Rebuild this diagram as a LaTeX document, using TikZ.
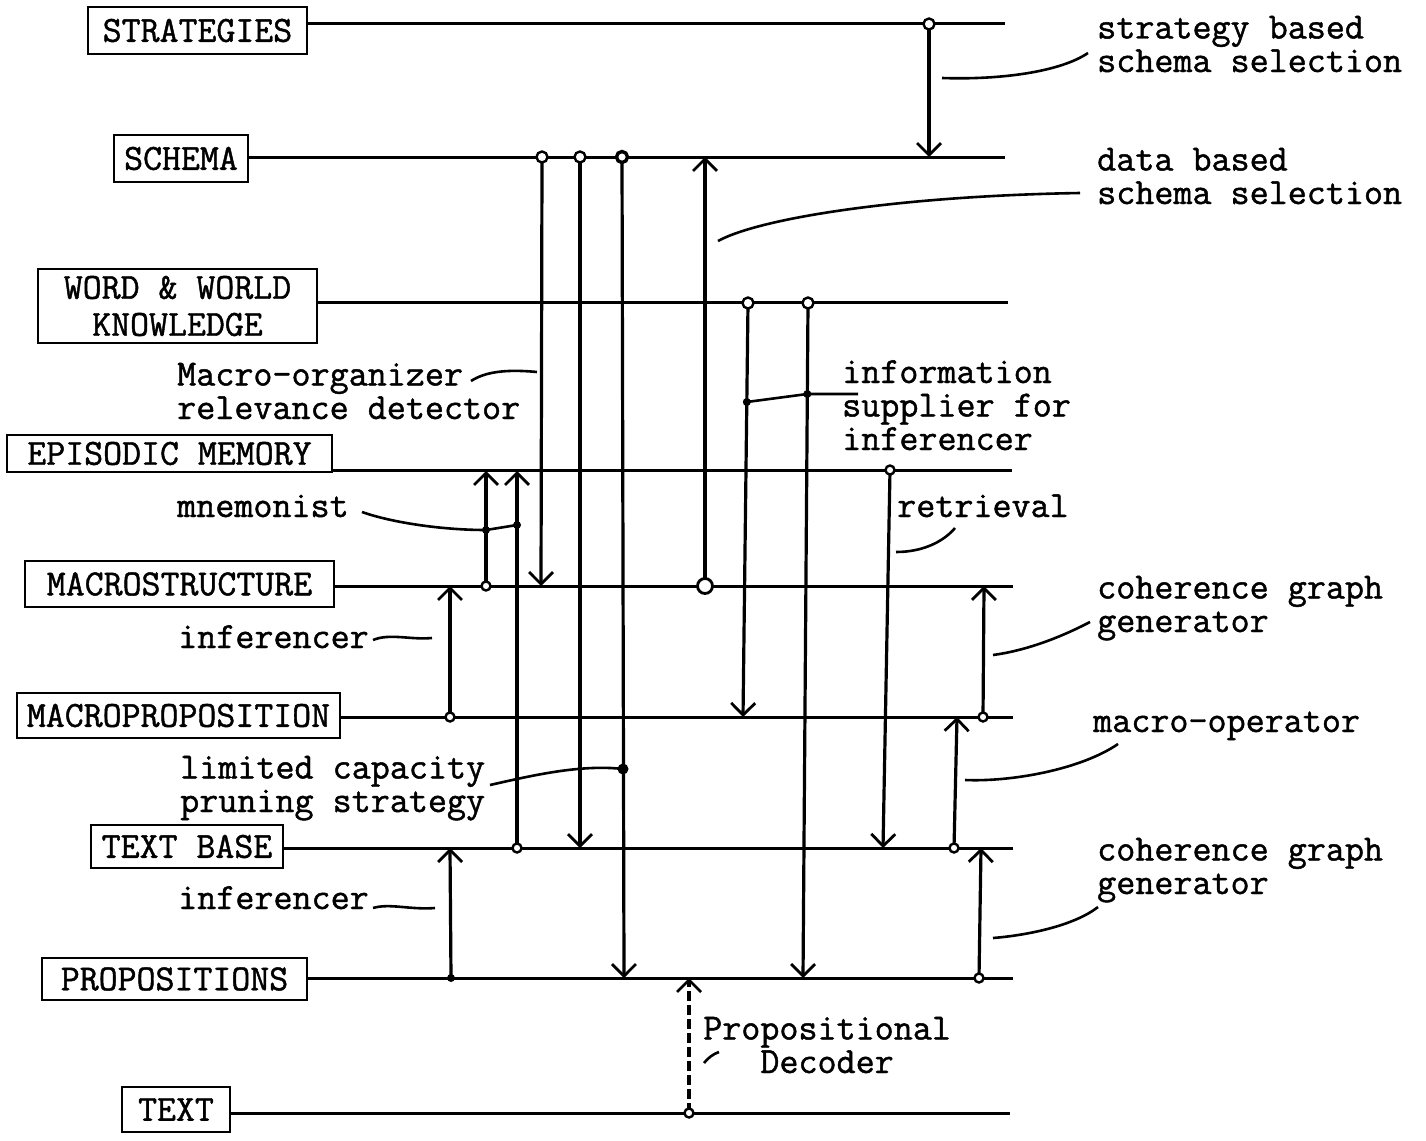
\documentclass[tikz,border=0pt]{standalone}
\usepackage{fontspec}
\newfontfamily\typfont[FakeBold=1.2]{Latin Modern Mono}
\usetikzlibrary{arrows.meta}
\begin{document}
\begin{tikzpicture}[x=1pt,y=-1pt,
 lvl/.style={draw, line width=2.6pt, inner sep=0pt, font=\typfont\fontsize{36.8}{37}\selectfont, align=center},
 lab/.style={anchor=base west, inner sep=0pt, align=left, font=\typfont\fontsize{37}{33.5}\selectfont},
 hline/.style={line width=3pt},
 vline/.style={line width=3.2pt},
 arrtip/.style={-{Straight Barb[length=12pt,width=24pt,line width=2.8pt]}},
 lead/.style={line width=2.6pt},
 mkopen/.style={circle, draw, line width=2.4pt, fill=white, inner sep=0pt, minimum size=9pt},
 mkbig/.style={circle, draw, line width=2.8pt, fill=white, inner sep=0pt, minimum size=12pt},
 mkdot/.style={circle, fill=black, inner sep=0pt, minimum size=9pt},
]
\fill[white] (0,0) rectangle (1426,1140);
\useasboundingbox (0,0) rectangle (1426,1140);

% level boxes
\node[lvl, minimum width=219pt, minimum height=47pt] (str) at (197.5,30.5) {STRATEGIES};
\node[lvl, minimum width=134pt, minimum height=47pt] (sch) at (181,158.5) {SCHEMA};
\node[lvl, minimum width=279pt, minimum height=74pt] (wwk) at (177.5,306) {WORD \& WORLD\\KNOWLEDGE};
\node[lvl, minimum width=325pt, minimum height=37pt] (epi) at (169.5,453.5) {EPISODIC MEMORY};
\node[lvl, minimum width=309pt, minimum height=46pt] (mst) at (179.5,584) {MACROSTRUCTURE};
\node[lvl, minimum width=323pt, minimum height=45pt] (mpr) at (178.5,715.5) {MACROPROPOSITION};
\node[lvl, minimum width=192pt, minimum height=43pt] (tb) at (187,846.5) {TEXT BASE};
\node[lvl, minimum width=265pt, minimum height=42pt] (pro) at (174.5,979) {PROPOSITIONS};
\node[lvl, minimum width=108pt, minimum height=45pt] (txt) at (176,1109.5) {TEXT};

% right ends of level lines
\coordinate (strR) at (1005,24);
\coordinate (schR) at (1005,157);
\coordinate (wwkR) at (1008,302);
\coordinate (epiR) at (1012,470);
\coordinate (mstR) at (1013,586);
\coordinate (mprR) at (1013,717);
\coordinate (tbR) at (1013,848);
\coordinate (proR) at (1013,978);
\coordinate (txtR) at (1010,1113);

\draw[hline] (str.east |- strR) -- (strR);
\draw[hline] (sch.east |- schR) -- (schR);
\draw[hline] (wwk.east |- wwkR) -- (wwkR);
\draw[hline] (epi.east |- epiR) -- (epiR);
\draw[hline] (mst.east |- mstR) -- (mstR);
\draw[hline] (mpr.east |- mprR) -- (mprR);
\draw[hline] (tb.east |- tbR) -- (tbR);
\draw[hline] (pro.east |- proR) -- (proR);
\draw[hline] (txt.east |- txtR) -- (txtR);

% connector end points
\coordinate (a1) at (929,24);  \coordinate (a2) at (929,157);
\coordinate (b1) at (542,157); \coordinate (b2) at (541,586);
\coordinate (c1) at (580,157); \coordinate (c2) at (580,848);
\coordinate (d1) at (622,157); \coordinate (d2) at (624,978);
\coordinate (dm) at (623,769);
\coordinate (e1) at (705,586); \coordinate (e2) at (705,157);
\coordinate (f1) at (748,303); \coordinate (f2) at (743,717);
\coordinate (fm) at (746.8,402);
\coordinate (g1) at (808,303); \coordinate (g2) at (803,978);
\coordinate (gm) at (807.3,394);
\coordinate (iE) at (858,394);
\coordinate (h1) at (890,470); \coordinate (h2) at (883,848);
\coordinate (i1) at (486,586); \coordinate (i2) at (486,471);
\coordinate (im) at (486,530);
\coordinate (j1) at (517,848); \coordinate (j2) at (517,471);
\coordinate (jm) at (517,525);
\coordinate (k1) at (450,717); \coordinate (k2) at (450,586);
\coordinate (l1) at (451,978); \coordinate (l2) at (450,848);
\coordinate (m1) at (983,717); \coordinate (m2) at (984,586);
\coordinate (n1) at (954,848); \coordinate (n2) at (957,717);
\coordinate (o1) at (979,978); \coordinate (o2) at (981,848);
\coordinate (p1) at (689,1113); \coordinate (p2) at (689,978);

% vertical connectors
\foreach \s/\t in {a1/a2,b1/b2,c1/c2,d1/d2,e1/e2,f1/f2,g1/g2,h1/h2,i1/i2,j1/j2,k1/k2,l1/l2,m1/m2,n1/n2,o1/o2}
  \draw[vline, arrtip] (\s) -- (\t);
\draw[vline, arrtip, dash pattern=on 10pt off 4pt] (p1) -- (p2);

% leader lines
\draw[lead] (fm) -- (gm) -- (iE);
\draw[lead] (942,78) .. controls (1000,80) and (1060,72) .. (1088,53);
\draw[lead] (718,241) .. controls (760,218) and (900,196) .. (1080,193);
\draw[lead] (471,381) .. controls (485,372) and (505,369) .. (537,372);
\draw[lead] (362,512) .. controls (390,522) and (440,530) .. (im) -- (jm);
\draw[lead] (896,552) .. controls (925,552) and (945,540) .. (955,528);
\draw[lead] (373,640) .. controls (390,633) and (410,640) .. (432,638);
\draw[lead] (993,655) .. controls (1030,650) and (1065,635) .. (1090,622);
\draw[lead] (965,780) .. controls (1010,782) and (1080,770) .. (1118,744);
\draw[lead] (490,785) .. controls (530,776) and (580,764) .. (dm);
\draw[lead] (373,908) .. controls (390,903) and (410,910) .. (435,908);
\draw[lead] (993,938) .. controls (1030,935) and (1075,925) .. (1098,907);
\draw[lead] (704,1063) .. controls (708,1058) and (713,1054) .. (719,1052);

% markers
\foreach \p in {a1,b1,c1,f1,g1}
  \node[mkopen, minimum size=11pt] at (\p) {};
\node[mkopen, minimum size=11pt, line width=3.4pt] (d1m) at (d1) {};
\node[mkbig, minimum width=12pt, minimum height=15pt] (e1m) at (e1) {};
\foreach \p in {h1,i1,j1,k1,m1,n1,o1,p1}
  \node[mkopen] at (\p) {};
\foreach \p in {l1,im,jm,fm,gm}
  \node[mkdot, minimum size=8pt] at (\p) {};
\node[mkdot, minimum size=11pt] (dmm) at (dm) {};

% labels (anchor = baseline of the last line)
\node[lab] (t1) at (1097,72) {strategy based\\schema selection};
\node[lab] (t2) at (1097,204) {data based\\schema selection};
\node[lab] (t3) at (177,419) {Macro-organizer\\relevance detector};
\node[lab] (t4) at (842,450) {information\\supplier for\\inferencer};
\node[lab] (t5) at (177,517) {mnemonist};
\node[lab] (t6) at (897,517) {retrieval};
\node[lab] (t7) at (178,648) {inferencer};
\node[lab] (t8) at (1097,632) {coherence graph\\generator};
\node[lab] (t9) at (1093,732) {macro-operator};
\node[lab] (t10) at (180,812) {limited capacity\\pruning strategy};
\node[lab] (t11) at (178,909) {inferencer};
\node[lab] (t12) at (1097,894) {coherence graph\\generator};
\node[lab] (t13) at (703,1073) {Propositional\\\phantom{abc}Decoder};
\end{tikzpicture}
\end{document}
